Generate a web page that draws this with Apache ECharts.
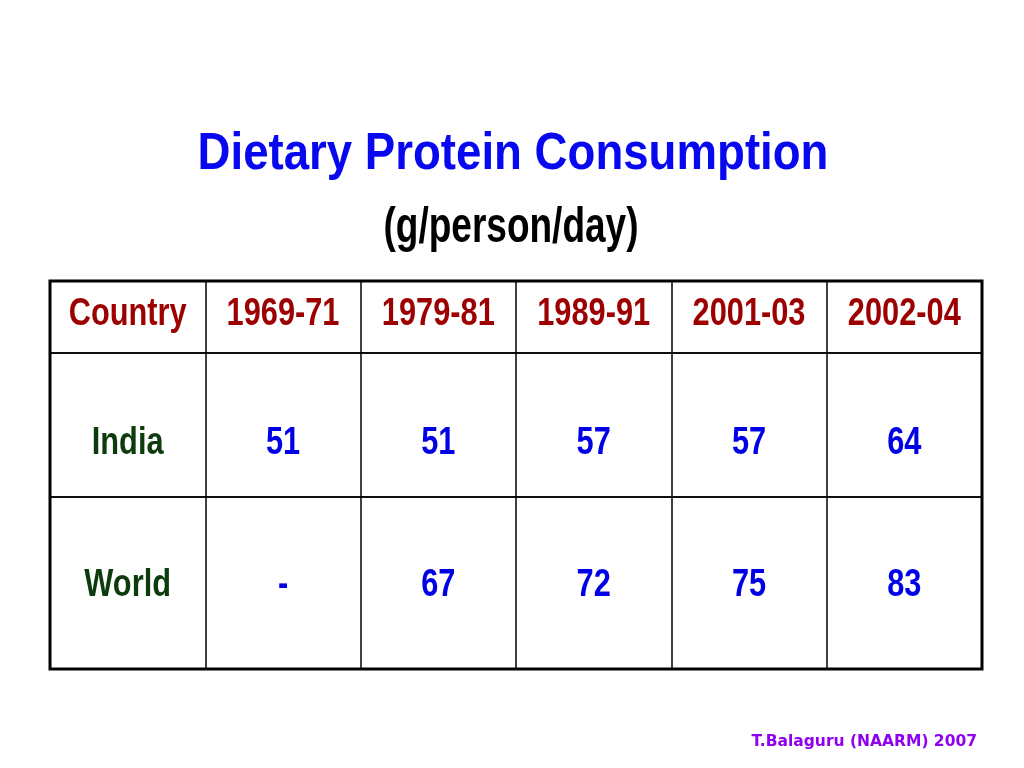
<!DOCTYPE html>
<html>
<head>
<meta charset="utf-8">
<script src="https://cdn.jsdelivr.net/npm/echarts@6/dist/echarts.min.js"></script>
<style>html,body{margin:0;padding:0;background:#fff;}#c{width:1024px;height:768px;}</style>
</head>
<body>
<div id="c"></div>
<script>
const columns = ['Country', '1969-71', '1979-81', '1989-91', '2001-03', '2002-04'];
const countries = ['India', 'World'];
const indiaValues = [51, 51, 57, 57, 64];
const worldValues = [null, 67, 72, 75, 83];
const rowValues = [indiaValues, worldValues];

const SANS = "'Liberation Sans', Arial, sans-serif";
const RED = '#9c0000', GREEN = '#0c3c0c', BLUE = '#0000e6';

const chart = echarts.init(document.getElementById('c'), null, {renderer: 'canvas'});

const rowGrids = [
  {left: 50, right: 42, top: 281, height: 72},
  {left: 50, right: 42, top: 353, height: 144},
  {left: 50, right: 42, top: 497, height: 172}
];
const labelOffsets = [-2, 19, 3];

const grids = rowGrids.map(g => Object.assign({show: true, borderColor: '#000', borderWidth: 1.5, backgroundColor: 'transparent'}, g));
grids.push({show: true, left: 50, right: 42, top: 281, height: 388, borderColor: '#000', borderWidth: 3, backgroundColor: 'transparent'});

const xAxes = grids.map((g, i) => ({
  type: 'category', gridIndex: i, data: columns,
  axisLine: {show: false}, axisTick: {show: false}, axisLabel: {show: false},
  splitLine: {show: i < 3, interval: 0, lineStyle: {color: '#000', width: 1.5}}
}));
const yAxes = grids.map((g, i) => ({
  type: 'value', gridIndex: i, min: 0, max: 1,
  axisLine: {show: false}, axisTick: {show: false}, axisLabel: {show: false}, splitLine: {show: false}
}));

function cellSeries(gridIdx, texts, colors, offsetY) {
  return {
    type: 'custom', xAxisIndex: gridIdx, yAxisIndex: gridIdx, silent: true,
    data: texts.map((t, i) => [i, 0.5]),
    renderItem: function (params, api) {
      const p = api.coord([api.value(0), api.value(1)]);
      return {
        type: 'text', x: p[0], y: p[1] + offsetY, scaleX: 0.81,
        style: {
          text: texts[params.dataIndex], fill: colors[params.dataIndex],
          fontFamily: SANS, fontWeight: 'bold', fontSize: 38,
          align: 'center', verticalAlign: 'middle'
        }
      };
    }
  };
}

const series = [];
series.push(cellSeries(0, columns, columns.map(() => RED), labelOffsets[0]));
countries.forEach((name, r) => {
  const texts = [name].concat(rowValues[r].map(v => v == null ? '-' : String(v)));
  const colors = texts.map((t, i) => i === 0 ? GREEN : BLUE);
  series.push(cellSeries(r + 1, texts, colors, labelOffsets[r + 1]));
});

chart.setOption({
  backgroundColor: '#fff',
  animation: false,
  graphic: [
    {type: 'text', x: 513, y: 155, scaleX: 0.877, silent: true,
     style: {text: 'Dietary Protein Consumption', fill: '#0808f0', fontFamily: SANS, fontWeight: 'bold', fontSize: 52, align: 'center', verticalAlign: 'middle'}},
    {type: 'text', x: 511, y: 228, scaleX: 0.74, silent: true,
     style: {text: '(g/person/day)', fill: '#000', fontFamily: SANS, fontWeight: 'bold', fontSize: 50, align: 'center', verticalAlign: 'middle'}},
    {type: 'text', x: 977, y: 742, silent: true,
     style: {text: 'T.Balaguru (NAARM) 2007', fill: '#9000f0', fontFamily: "'DejaVu Sans', Verdana, sans-serif", fontWeight: 'bold', fontSize: 15.5, align: 'right', verticalAlign: 'middle'}}
  ],
  grid: grids,
  xAxis: xAxes,
  yAxis: yAxes,
  series: series
});
</script>
</body>
</html>
